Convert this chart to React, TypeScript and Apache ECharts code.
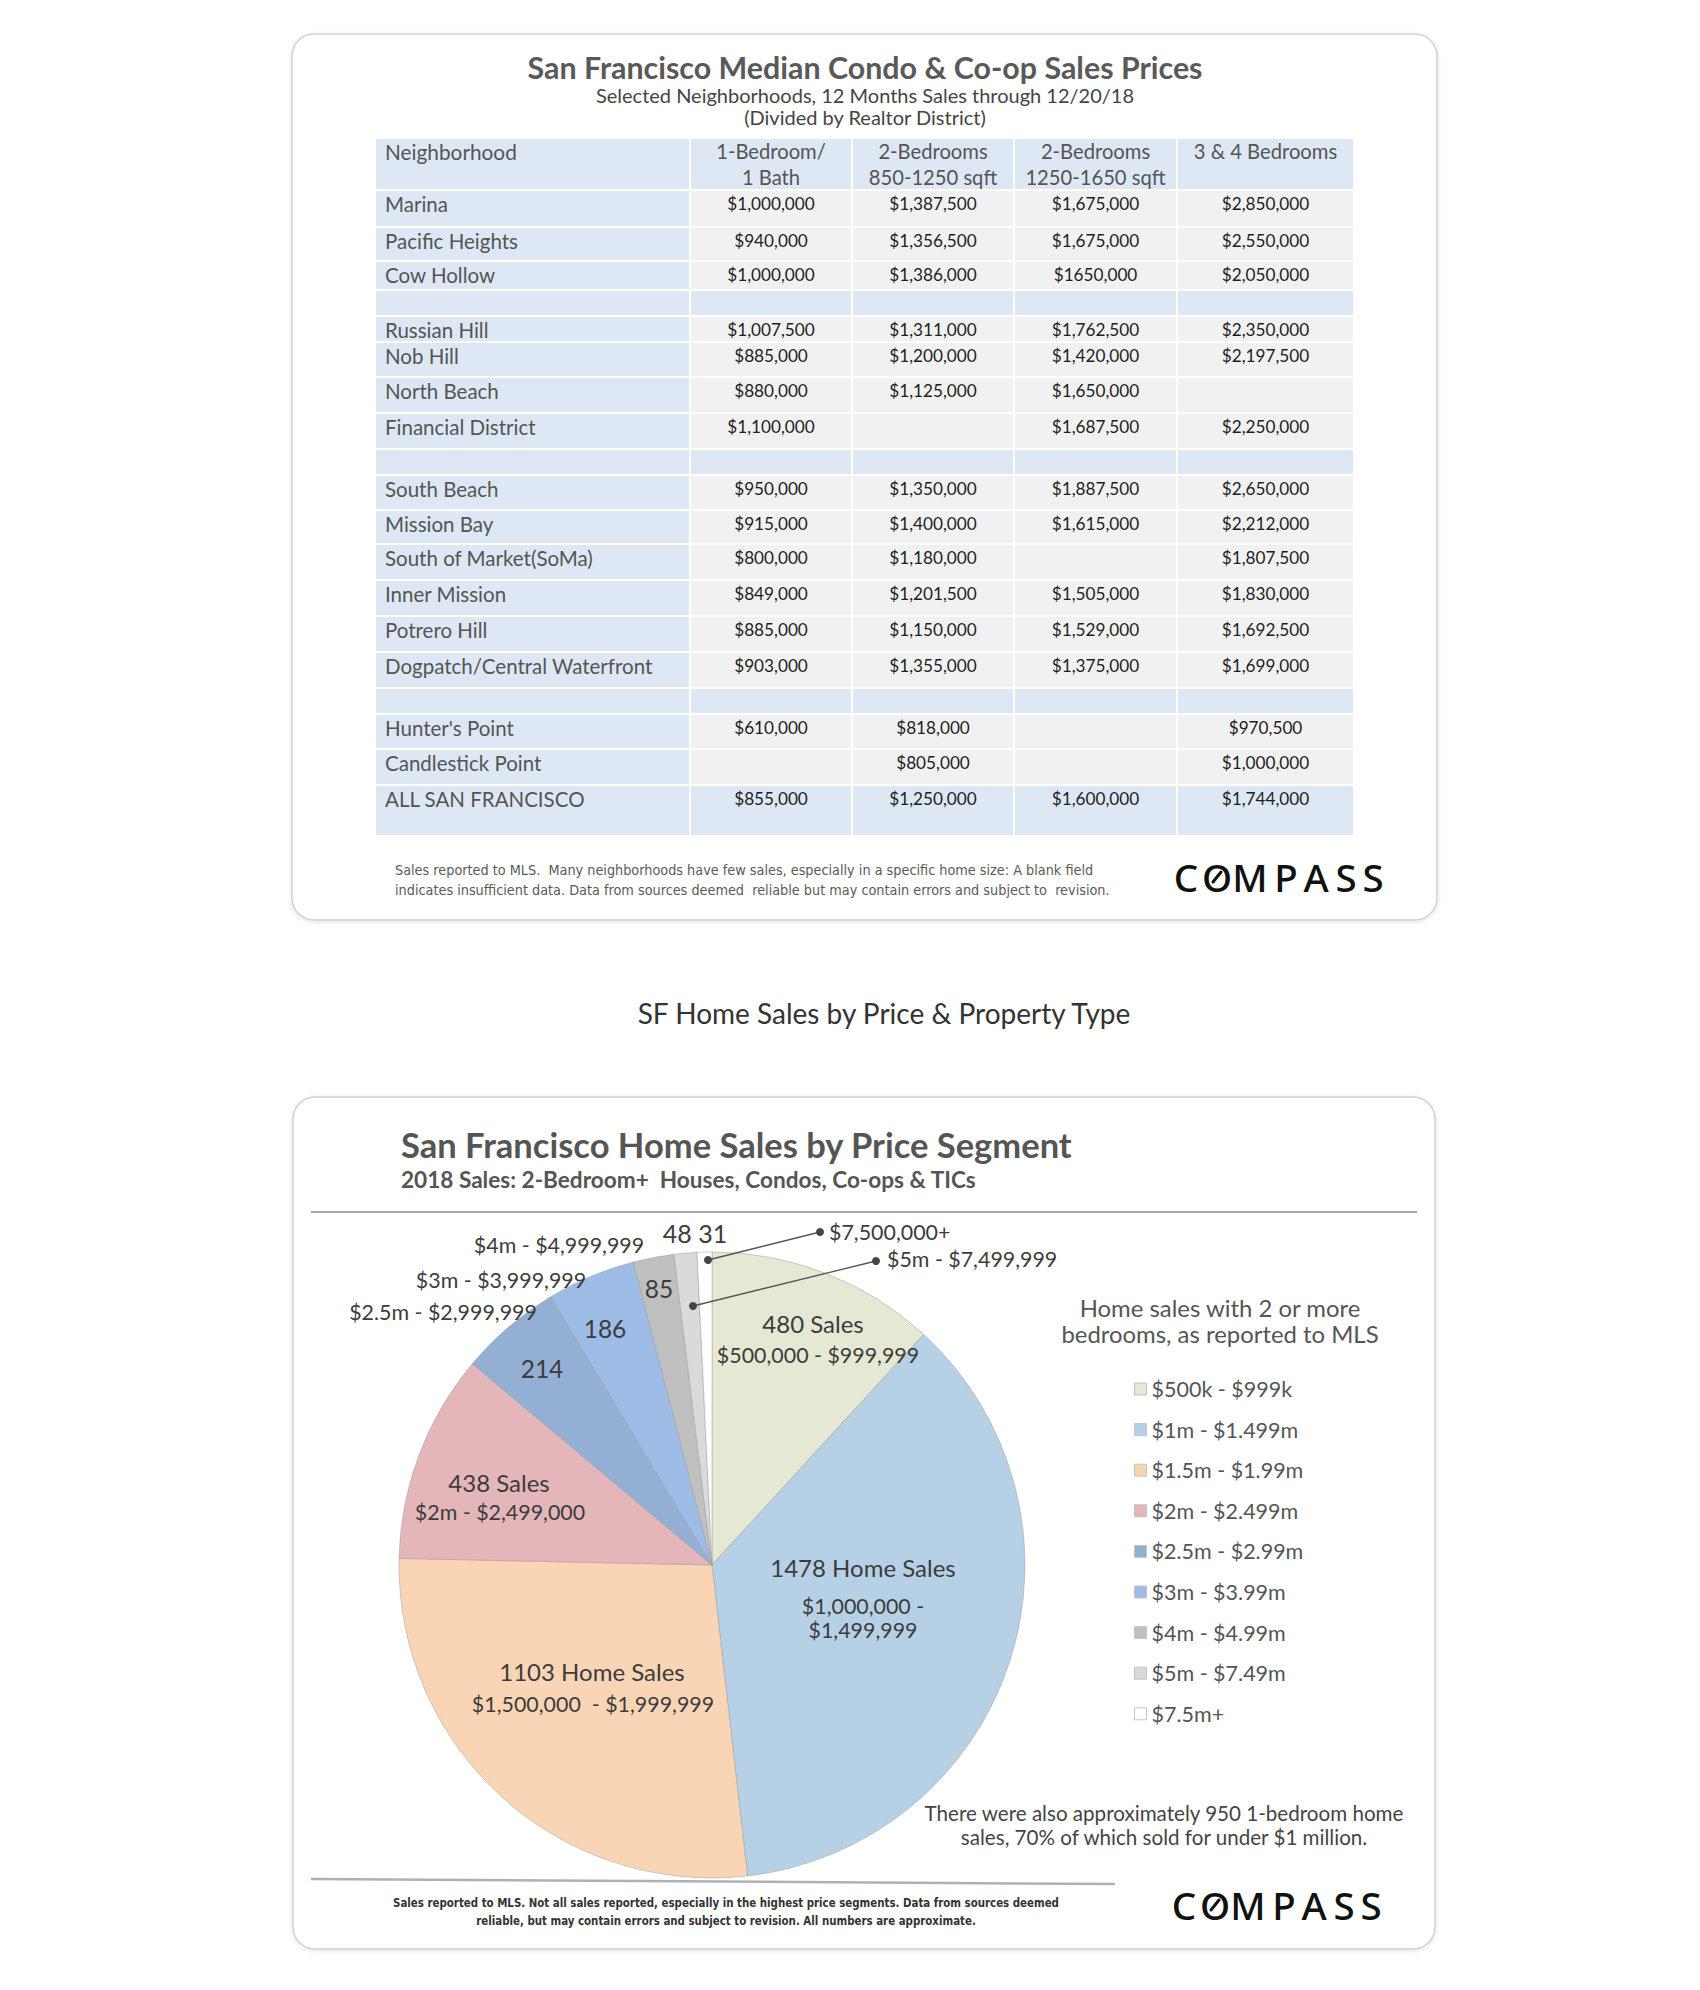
import React, { useEffect, useRef } from "react";
import * as echarts from "echarts";

// ---------- TABLE DATA ----------
const tableTitle = "San Francisco Median Condo & Co-op Sales Prices";
const tableSubtitle1 = "Selected Neighborhoods, 12 Months Sales through 12/20/18";
const tableSubtitle2 = "(Divided by Realtor District)";
const columnHeaders = [
  ["Neighborhood"],
  ["1-Bedroom/", "1 Bath"],
  ["2-Bedrooms", "850-1250 sqft"],
  ["2-Bedrooms", "1250-1650 sqft"],
  ["3 & 4 Bedrooms"],
];
// null = separator (blank) row
const neighborhoods = [
  "Marina", "Pacific Heights", "Cow Hollow", null,
  "Russian Hill", "Nob Hill", "North Beach", "Financial District", null,
  "South Beach", "Mission Bay", "South of Market(SoMa)", "Inner Mission", "Potrero Hill", "Dogpatch/Central Waterfront", null,
  "Hunter's Point", "Candlestick Point", "ALL SAN FRANCISCO",
];
const oneBedOneBath = [
  "$1,000,000", "$940,000", "$1,000,000", null,
  "$1,007,500", "$885,000", "$880,000", "$1,100,000", null,
  "$950,000", "$915,000", "$800,000", "$849,000", "$885,000", "$903,000", null,
  "$610,000", "", "$855,000",
];
const twoBedSmall = [
  "$1,387,500", "$1,356,500", "$1,386,000", null,
  "$1,311,000", "$1,200,000", "$1,125,000", "", null,
  "$1,350,000", "$1,400,000", "$1,180,000", "$1,201,500", "$1,150,000", "$1,355,000", null,
  "$818,000", "$805,000", "$1,250,000",
];
const twoBedLarge = [
  "$1,675,000", "$1,675,000", "$1650,000", null,
  "$1,762,500", "$1,420,000", "$1,650,000", "$1,687,500", null,
  "$1,887,500", "$1,615,000", "", "$1,505,000", "$1,529,000", "$1,375,000", null,
  "", "", "$1,600,000",
];
const threeFourBed = [
  "$2,850,000", "$2,550,000", "$2,050,000", null,
  "$2,350,000", "$2,197,500", "", "$2,250,000", null,
  "$2,650,000", "$2,212,000", "$1,807,500", "$1,830,000", "$1,692,500", "$1,699,000", null,
  "$970,500", "$1,000,000", "$1,744,000",
];
const tableNote1 = "Sales reported to MLS.  Many neighborhoods have few sales, especially in a specific home size: A blank field";
const tableNote2 = "indicates insufficient data. Data from sources deemed  reliable but may contain errors and subject to  revision.";

// ---------- PIE DATA ----------
const pageCaption = "SF Home Sales by Price & Property Type";
const pieTitle = "San Francisco Home Sales by Price Segment";
const pieSubtitle = "2018 Sales: 2-Bedroom+  Houses, Condos, Co-ops & TICs";
const segmentNames = [
  "$500k - $999k", "$1m - $1.499m", "$1.5m - $1.99m", "$2m - $2.499m",
  "$2.5m - $2.99m", "$3m - $3.99m", "$4m - $4.99m", "$5m - $7.49m", "$7.5m+",
];
const segmentSales = [480, 1478, 1103, 438, 214, 186, 85, 48, 31];
const segmentRanges = [
  "$500,000 - $999,999", "$1,000,000 -|$1,499,999", "$1,500,000  - $1,999,999", "$2m - $2,499,000",
  "$2.5m - $2,999,999", "$3m - $3,999,999", "$4m - $4,999,999", "$5m - $7,499,999", "$7,500,000+",
];
const legendHeader = ["Home sales with 2 or more", "bedrooms, as reported to MLS"];
const pieNote = ["There were also approximately 950 1-bedroom home", "sales, 70% of which sold for under $1 million."];
const pieFootnote = [
  "Sales reported to MLS. Not all sales reported, especially in the highest price segments. Data from sources deemed",
  "reliable, but may contain errors and subject to revision. All numbers are approximate.",
];

// ---------- STYLES / LAYOUT ----------
const segmentColors = ["#e5e8d2", "#b6d1e6", "#fad5b5", "#e4b6b9", "#93afd4", "#9dbde7", "#c0c0c0", "#dadada", "#ffffff"];
const FONT = "Lato, 'Noto Sans', sans-serif";
const NARROW = "'Liberation Sans Narrow', 'DejaVu Sans Condensed', 'Liberation Sans', sans-serif";
const BLUE = "#dde8f4";
const GRAY = "#f1f1f1";
const colLeft = [376, 691, 853, 1015, 1178];
const colRight = [689, 851, 1013, 1176, 1353];
const headerTop = 139;
const rowTops = [191, 228, 262, 291, 317, 343, 378, 414, 450, 476, 511, 545, 581, 617, 653, 689, 715, 750, 786];
const tableBottom = 835;

function txt(x: number, y: number, text: string, o: any = {}) {
  const align = o.align || "center";
  return {
    type: "text",
    x,
    y,
    z: o.z ?? 20,
    silent: true,
    style: {
      text,
      fill: o.color || "#444",
      fontSize: o.size || 18,
      fontFamily: o.family || FONT,
      fontWeight: o.weight || "normal",
      align,
      textAlign: align,
      verticalAlign: "middle",
      textVerticalAlign: "middle",
    },
  };
}

function compassLogo(cx: number, cy: number) {
  const letters = ["C", "O", "M", "P", "A", "S", "S"];
  const offs = [-93, -62, -29, 7, 37, 67, 94];
  const els: any[] = letters.map((l, i) =>
    txt(cx + offs[i], cy, l, { size: 38.5, color: "#111", family: "'Noto Sans', Lato, sans-serif", weight: 500 })
  );
  const ox = cx + offs[1];
  els.push({
    type: "line",
    z: 21,
    silent: true,
    shape: { x1: ox - 4, y1: cy + 5, x2: ox + 4, y2: cy - 5 },
    style: { stroke: "#111", lineWidth: 3, lineCap: "round" },
  });
  return els;
}

function buildOption() {
  const g: any[] = [];
  // cards
  const card = (x: number, y: number, w: number, h: number) => ({
    type: "rect",
    z: 0,
    silent: true,
    shape: { x, y, width: w, height: h, r: 22 },
    style: { fill: "#fff", stroke: "#d2d2d2", lineWidth: 1.5, shadowBlur: 4, shadowColor: "rgba(0,0,0,0.12)", shadowOffsetY: 1 },
  });
  g.push(card(292, 34, 1145, 886));
  g.push(card(293, 1097, 1142, 852));

  // table title
  g.push(txt(865, 67, tableTitle, { size: 30.4, weight: "bold", color: "#595959" }));
  g.push(txt(865, 95, tableSubtitle1, { size: 20, color: "#444" }));
  g.push(txt(865, 117, tableSubtitle2, { size: 20, color: "#444" }));

  // table cells
  const cols = [neighborhoods, oneBedOneBath, twoBedSmall, twoBedLarge, threeFourBed];
  const cell = (c: number, top: number, bottom: number, fill: string) => ({
    type: "rect",
    z: 1,
    silent: true,
    shape: { x: colLeft[c], y: top, width: colRight[c] - colLeft[c], height: bottom - top },
    style: { fill },
  });
  for (let c = 0; c < 5; c++) g.push(cell(c, headerTop, rowTops[0] - 2, BLUE));
  columnHeaders.forEach((lines, c) => {
    lines.forEach((line, k) => {
      if (c === 0) g.push(txt(385, 151 + k * 26, line, { align: "left", size: 20.8, color: "#555" }));
      else g.push(txt((colLeft[c] + colRight[c]) / 2, 151 + k * 26, line, { size: 20.2, color: "#555" }));
    });
  });
  neighborhoods.forEach((name, i) => {
    const top = rowTops[i];
    const bottom = i + 1 < rowTops.length ? rowTops[i + 1] - 2 : tableBottom;
    const blank = name === null;
    const last = i === neighborhoods.length - 1;
    for (let c = 0; c < 5; c++) g.push(cell(c, top, bottom, blank || last || c === 0 ? BLUE : GRAY));
    if (blank) return;
    const ty = top + 12.5;
    g.push(txt(385, ty, name as string, { align: "left", size: 20.5, color: "#555" }));
    for (let c = 1; c < 5; c++) {
      const v = cols[c][i];
      if (v) g.push(txt((colLeft[c] + colRight[c]) / 2, ty, v, { size: 17.2, color: "#1e1e1e" }));
    }
  });
  g.push(txt(395, 870, tableNote1, { align: "left", size: 14.3, color: "#5a5a5a", family: NARROW }));
  g.push(txt(395, 890, tableNote2, { align: "left", size: 14.3, color: "#5a5a5a", family: NARROW }));
  g.push(...compassLogo(1279, 877));

  // page caption
  g.push(txt(884, 1013, pageCaption, { size: 28, color: "#333" }));

  // pie card texts
  g.push(txt(401, 1144, pieTitle, { align: "left", size: 34.5, weight: "bold", color: "#555" }));
  g.push(txt(401, 1179, pieSubtitle, { align: "left", size: 22.6, weight: "bold", color: "#555" }));
  g.push({ type: "line", z: 2, silent: true, shape: { x1: 311, y1: 1212, x2: 1417, y2: 1212 }, style: { stroke: "#a8a8a8", lineWidth: 2 } });
  g.push({ type: "line", z: 2, silent: true, shape: { x1: 311, y1: 1879, x2: 1115, y2: 1884 }, style: { stroke: "#b0b0b0", lineWidth: 2.5 } });

  // pie annotations
  const s = segmentSales;
  const r = segmentRanges;
  const big = { size: 24, color: "#3c3c3c" };
  const small = { size: 21.4, color: "#3c3c3c" };
  g.push(txt(813, 1323, `${s[0]} Sales`, big));
  g.push(txt(818, 1355, r[0], small));
  g.push(txt(863, 1567, `${s[1]} Home Sales`, big));
  const r1 = r[1].split("|");
  g.push(txt(863, 1606, r1[0], small));
  g.push(txt(863, 1630, r1[1], small));
  g.push(txt(592, 1671, `${s[2]} Home Sales`, big));
  g.push(txt(593, 1704, r[2], small));
  g.push(txt(499, 1482, `${s[3]} Sales`, big));
  g.push(txt(500, 1512, r[3], small));
  g.push(txt(542, 1368, `${s[4]}`, { size: 24.5, color: "#3c3c3c" }));
  g.push(txt(605, 1328, `${s[5]}`, { size: 24.5, color: "#3c3c3c" }));
  g.push(txt(659, 1288, `${s[6]}`, { size: 24.5, color: "#3c3c3c" }));
  g.push(txt(695, 1233, `${s[7]} ${s[8]}`, { size: 25, color: "#3c3c3c" }));
  g.push(txt(443, 1312, r[4], small));
  g.push(txt(501, 1280, r[5], small));
  g.push(txt(559, 1245, r[6], small));
  g.push(txt(887, 1259, r[7], { ...small, align: "left" }));
  g.push(txt(829, 1232, r[8], { ...small, align: "left" }));
  const leader = (x1: number, y1: number, x2: number, y2: number) => {
    g.push({ type: "line", z: 20, silent: true, shape: { x1, y1, x2, y2 }, style: { stroke: "#555", lineWidth: 1.3 } });
    g.push({ type: "circle", z: 21, silent: true, shape: { cx: x1, cy: y1, r: 4 }, style: { fill: "#444" } });
    g.push({ type: "circle", z: 21, silent: true, shape: { cx: x2, cy: y2, r: 4 }, style: { fill: "#444" } });
  };
  leader(708, 1260, 820, 1232);
  leader(693, 1306, 876, 1261);

  // legend header + note
  g.push(txt(1220, 1307, legendHeader[0], { size: 23.9, color: "#555" }));
  g.push(txt(1220, 1333, legendHeader[1], { size: 23.9, color: "#555" }));
  g.push(txt(1164, 1813, pieNote[0], { size: 20.6, color: "#444" }));
  g.push(txt(1164, 1837, pieNote[1], { size: 20.6, color: "#444" }));
  g.push(txt(726, 1903, pieFootnote[0], { size: 11.4, color: "#333", family: NARROW, weight: "bold" }));
  g.push(txt(726, 1921, pieFootnote[1], { size: 11.4, color: "#333", family: NARROW, weight: "bold" }));
  g.push(...compassLogo(1277, 1905));

  return {
    animation: false,
    backgroundColor: "#ffffff",
    legend: {
      orient: "vertical",
      left: 1129,
      top: 1373,
      itemWidth: 12,
      itemHeight: 12,
      itemGap: 18.6,
      icon: "rect",
      selectedMode: false,
      data: segmentNames,
      textStyle: { fontSize: 21.5, color: "#555", fontFamily: FONT },
      itemStyle: { borderColor: "#c4c4c4", borderWidth: 1 },
    },
    graphic: { elements: g },
    series: [
      {
        type: "pie",
        z: 5,
        silent: true,
        center: [712, 1565],
        radius: 313,
        startAngle: 90,
        clockwise: true,
        avoidLabelOverlap: false,
        label: { show: false },
        labelLine: { show: false },
        itemStyle: { borderColor: "rgba(150,150,150,0.45)", borderWidth: 1 },
        data: segmentNames.map((name, i) => ({
          name,
          value: segmentSales[i],
          itemStyle: { color: segmentColors[i] },
        })),
      },
    ],
  };
}

export default function App() {
  const ref = useRef<HTMLDivElement>(null);
  useEffect(() => {
    const chart = echarts.init(ref.current as HTMLDivElement, null, { renderer: "svg" });
    chart.setOption(buildOption() as any);
    return () => chart.dispose();
  }, []);
  return <div ref={ref} style={{ position: "absolute", left: 0, top: 0, width: 1700, height: 1990 }} />;
}
